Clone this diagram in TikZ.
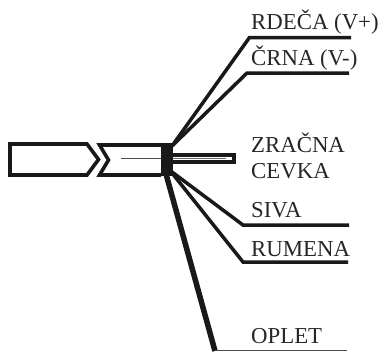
\documentclass[tikz,border=0pt]{standalone}
\usepackage{fontspec}
\setmainfont{Liberation Serif}
\tikzset{
  x=1pt,y=-1pt,
  lbl/.style={anchor=base west,inner sep=0pt,text=black!85,font=\fontsize{22.8}{24}\selectfont},
  wire/.style={draw=black!90,line width=3.5pt,line join=miter},
  sheath/.style={draw=black!90,line width=3.6pt,line join=miter},
  blockbox/.style={fill=black!90,draw=none,minimum width=12pt,minimum height=33pt,inner sep=0pt,outer sep=0pt}
}
\begin{document}
\begin{tikzpicture}
\useasboundingbox (0,0) rectangle (383,351);
% outer jacket and stripped section
\draw[sheath] (10,144) -- (87,144) -- (98.5,159.5) -- (87,175) -- (10,175) -- cycle;
\draw[sheath] (161,145) -- (99.5,145) -- (108.5,160) -- (99.5,175) -- (161,175);
\node[blockbox] (blk) at (167,159.5) {};
% air tube
\fill[black!90] (173,153) rectangle (236,163.5);
\fill[white] (173,157) rectangle (232,160);
\draw[black!60,line width=1pt] (173,158.3) -- (226,158.3);
% inner thin line
\coordinate (thinL) at (121,158);
\draw[black!70,line width=1pt] (thinL) -- (blk.west |- thinL);
% labels
\node[lbl] (red) at (251,29) {RDEČA (V+)};
\node[lbl] (blk2) at (251,65) {ČRNA (V-)};
\node[lbl] (zr) at (251,152.7) {ZRAČNA};
\node[lbl] (ce) at (251,178) {CEVKA};
\node[lbl] (si) at (251,217) {SIVA};
\node[lbl] (ru) at (251,256) {RUMENA};
\node[lbl] (op) at (251,343) {OPLET};
% wire points
\coordinate (a1) at (172,146); \coordinate (a2) at (249.5,37.5); \coordinate (a3) at (351,37.5);
\coordinate (b1) at (172,146); \coordinate (b2) at (247,73); \coordinate (b3) at (349,73);
\coordinate (c1) at (172,172); \coordinate (c2) at (243,225); \coordinate (c3) at (349,225);
\coordinate (d1) at (172,173); \coordinate (d2) at (243,262); \coordinate (d3) at (348,262);
\coordinate (e1) at (166,174); \coordinate (e2) at (215,351); \coordinate (e3) at (347,350.3);
\draw[wire] (a1) -- (a2) -- (a3);
\draw[wire] (b1) -- (b2) -- (b3);
\draw[wire] (c1) -- (c2) -- (c3);
\draw[wire] (d1) -- (d2) -- (d3);
\draw[wire,line width=5.5pt] (e1) -- (e2);
\draw[black!70,line width=1pt] (e2 |- e3) -- (e3);
\end{tikzpicture}
\end{document}
